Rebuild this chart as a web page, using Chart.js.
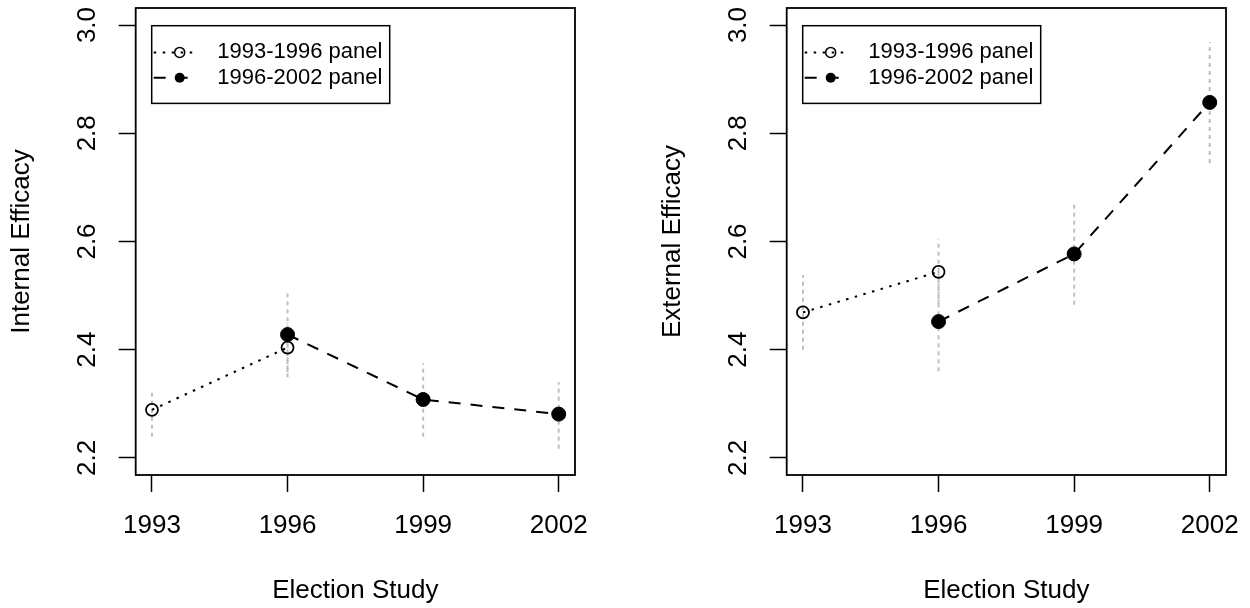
<!DOCTYPE html>
<meta charset="utf-8">
<style>
	body { margin: 0; background: #fff; overflow: hidden; }
	.panel { position: absolute; top: 0; width: 625px; height: 608px; }
</style>
<body>

	<script src="https://cdn.jsdelivr.net/npm/chart.js@4.4.0/dist/chart.umd.min.js"></script>

	<div class="panel" style="left: 0;"><canvas id="internalChart" width="625" height="608"></canvas></div>
	<div class="panel" style="left: 625px;"><canvas id="externalChart" width="625" height="608"></canvas></div>

	<script>
		var xTicks = [1993, 1996, 1999, 2002];
		var yTicks = [2.2, 2.4, 2.6, 2.8, 3.0];
		var seriesNames = ["1993-1996 panel", "1996-2002 panel"];

		var years9396 = [1993, 1996];
		var years9602 = [1996, 1999, 2002];

		// Internal efficacy
		var internal9396 = [2.289, 2.404];
		var internalLo9396 = [2.239, 2.359];
		var internalHi9396 = [2.328, 2.449];
		var internal9602 = [2.428, 2.308, 2.281];
		var internalLo9602 = [2.349, 2.239, 2.217];
		var internalHi9602 = [2.504, 2.375, 2.340];

		// External efficacy
		var external9396 = [2.469, 2.544];
		var externalLo9396 = [2.400, 2.485];
		var externalHi9396 = [2.538, 2.604];
		var external9602 = [2.452, 2.577, 2.857];
		var externalLo9602 = [2.360, 2.483, 2.745];
		var externalHi9602 = [2.547, 2.672, 2.968];

		var FONT = '"Liberation Sans", Arial, sans-serif';
		Chart.defaults.font.family = FONT;
		Chart.defaults.color = '#000';

		function points(xs, ys) {
			return xs.map(function(x, i) { return {x: x, y: ys[i]}; });
		}

		// vertical segments separated by null gaps
		function bars(xs, lo, hi) {
			var out = [];
			for (var i = 0; i < xs.length; i++) {
				out.push({x: xs[i], y: lo[i]}, {x: xs[i], y: hi[i]}, {x: xs[i], y: null});
			}
			return out;
		}

		var frameAndLegend = {
			id: 'frameAndLegend',
			afterDraw: function(chart) {
				var ctx = chart.ctx, a = chart.chartArea;
				ctx.save();
				ctx.strokeStyle = '#000';
				ctx.lineWidth = 1.8;
				ctx.strokeRect(a.left, a.top, a.right - a.left, a.bottom - a.top);

				var lx = a.left + 16, ly = a.top + 17.7;
				ctx.lineWidth = 1.5;
				ctx.strokeRect(lx, ly, 238, 77.7);
				for (var i = 0; i < 2; i++) {
					var ds = chart.data.datasets[i];
					var ry = ly + 26.7 + i * 25.3;
					ctx.setLineDash(ds.borderDash);
					ctx.lineWidth = ds.borderWidth;
					ctx.beginPath();
					ctx.moveTo(lx + 2, ry);
					ctx.lineTo(lx + 46, ry);
					ctx.stroke();
					ctx.setLineDash([]);
					ctx.beginPath();
					ctx.arc(lx + 28, ry, 5, 0, 2 * Math.PI);
					if (i == 1) {
						ctx.fillStyle = '#000';
						ctx.fill();
					} else {
						ctx.lineWidth = 1.5;
						ctx.stroke();
					}
					ctx.fillStyle = '#000';
					ctx.font = '22px ' + FONT;
					ctx.textBaseline = 'middle';
					ctx.textAlign = 'left';
					ctx.fillText(ds.label, lx + 65.6, ry);
				}
				ctx.restore();
			}
		};

		function makePanel(canvasId, s1, lo1, hi1, s2, lo2, hi2, yTitle, pad) {
			return new Chart(document.getElementById(canvasId), {
				type: 'line',
				data: {
					datasets: [{
						label: seriesNames[0],
						data: points(years9396, s1),
						borderColor: '#000',
						borderWidth: 2,
						borderDash: [2.5, 6.5],
						pointStyle: 'circle',
						pointRadius: 6,
						pointBackgroundColor: 'rgba(0,0,0,0)',
						pointBorderColor: '#000',
						pointBorderWidth: 1.8,
						order: 1
					}, {
						label: seriesNames[1],
						data: points(years9602, s2),
						borderColor: '#000',
						borderWidth: 2,
						borderDash: [12, 10],
						pointStyle: 'circle',
						pointRadius: 7,
						pointBackgroundColor: '#000',
						pointBorderColor: '#000',
						pointBorderWidth: 1,
						order: 0
					}, {
						label: 'ci1',
						data: bars(years9396, lo1, hi1),
						borderColor: '#bebebe',
						borderWidth: 2,
						borderDash: [4, 4],
						pointRadius: 0,
						spanGaps: false,
						order: 3
					}, {
						label: 'ci2',
						data: bars(years9602, lo2, hi2),
						borderColor: '#bebebe',
						borderWidth: 2,
						borderDash: [4, 4],
						pointRadius: 0,
						spanGaps: false,
						order: 2
					}]
				},
				options: {
					responsive: false,
					animation: false,
					devicePixelRatio: 1,
					layout: { padding: pad },
					plugins: { legend: { display: false }, tooltip: { enabled: false } },
					scales: {
						x: {
							type: 'linear',
							min: 1992.64,
							max: 2002.36,
							afterBuildTicks: function(s) { s.ticks = xTicks.map(function(v) { return {value: v}; }); },
							afterFit: function(s) { s.height = 133; s.paddingLeft = 0; s.paddingRight = 0; },
							border: { display: false },
							grid: { drawOnChartArea: false, drawTicks: true, tickLength: 17, tickColor: '#000', tickWidth: 1.5 },
							ticks: {
								font: { size: 26 },
								padding: 18,
								maxRotation: 0,
								callback: function(v) { return String(v); }
							},
							title: { display: true, text: 'Election Study', font: { size: 26 }, padding: { top: 0, bottom: 1.5 } }
						},
						y: {
							min: 2.1685,
							max: 3.0315,
							afterBuildTicks: function(s) { s.ticks = yTicks.map(function(v) { return {value: v}; }); },
							afterFit: function(s) { s.width = 135.7; s.paddingTop = 0; s.paddingBottom = 0; },
							border: { display: false },
							grid: { drawOnChartArea: false, drawTicks: true, tickLength: 17, tickColor: '#000', tickWidth: 1.5 },
							ticks: {
								font: { size: 26 },
								padding: 13,
								minRotation: 90,
								maxRotation: 90,
								crossAlign: 'center',
								callback: function(v) { return v.toFixed(1); }
							},
							title: { display: true, text: yTitle, font: { size: 26 }, padding: { top: 6, bottom: 0 } }
						}
					}
				},
				plugins: [frameAndLegend]
			});
		}

		makePanel('internalChart', internal9396, internalLo9396, internalHi9396,
			internal9602, internalLo9602, internalHi9602, 'Internal Efficacy',
			{ left: 0, right: 50, top: 7.3, bottom: 0 });

		makePanel('externalChart', external9396, externalLo9396, externalHi9396,
			external9602, externalLo9602, externalHi9602, 'External Efficacy',
			{ left: 26, right: 24, top: 7.3, bottom: 0 });
	</script>
</body>
